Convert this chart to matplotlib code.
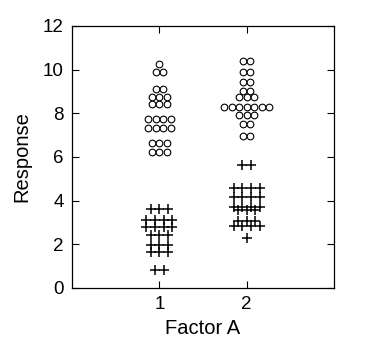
import matplotlib
matplotlib.use('Agg')
import matplotlib.pyplot as plt
import numpy as np

plt.rcParams['font.family'] = ['Liberation Sans', 'DejaVu Sans']

# response values, one entry per point
a1_circles = [10.24, 9.91, 9.91, 9.13, 9.13, 8.75, 8.75, 8.75, 8.41, 8.41, 8.41,
              7.73, 7.73, 7.73, 7.73, 7.32, 7.32, 7.32, 7.32,
              6.62, 6.62, 6.62, 6.23, 6.23, 6.23]
a1_crosses = [3.64, 3.64, 3.64, 3.10, 3.10, 3.10, 3.10, 2.80, 2.80, 2.80, 2.80,
              2.44, 2.44, 2.44, 1.98, 1.98, 1.98, 1.67, 1.67, 1.67, 0.84, 0.84]
a2_circles = [10.41, 10.41, 9.91, 9.91, 9.41, 9.41, 9.04, 9.04, 8.75, 8.75, 8.75,
              8.31, 8.31, 8.31, 8.31, 8.31, 8.31, 8.31,
              7.90, 7.90, 7.90, 7.52, 7.52, 6.94, 6.94]
a2_crosses = [5.61, 5.61, 4.57, 4.57, 4.57, 4.57, 4.18, 4.18, 4.18, 4.18,
              3.73, 3.73, 3.73, 3.73, 3.55, 3.55, 3.55, 3.09, 3.09, 3.09,
              2.82, 2.82, 2.82, 2.82, 2.29]
levels = [1, 2]


def spread(center, vals, step):
    # lay equal values side by side, centred on the level
    vals = np.asarray(vals)
    xs = np.zeros(len(vals))
    for v in np.unique(vals):
        idx = np.where(vals == v)[0]
        n = len(idx)
        xs[idx] = center + (np.arange(n) - (n - 1) / 2) * step
    return xs, vals


fig = plt.figure(figsize=(3.84, 3.6), dpi=100)
ax = fig.add_axes([0.1875, 0.2, 0.6823, 0.728])

for lev, circ, cross in [(levels[0], a1_circles, a1_crosses), (levels[1], a2_circles, a2_crosses)]:
    x, y = spread(lev, circ, 0.086)
    ax.plot(x, y, 'o', ms=4.8, mfc='white', mec='black', mew=0.8, ls='none')
    x, y = spread(lev, cross, 0.098)
    ax.plot(x, y, '+', ms=6.8, mec='black', mew=1.1, ls='none')

ax.set_xlim(0, 3)
ax.set_ylim(0, 12)
ax.set_xticks(levels)
ax.set_yticks(range(0, 13, 2))
ax.tick_params(direction='in', length=5, width=0.8, top=True, right=True,
               labelsize=13.5, pad=6)
for s in ax.spines.values():
    s.set_linewidth(0.9)
ax.set_xlabel('Factor A', fontsize=14.5, labelpad=4)
ax.set_ylabel('Response', fontsize=14.5, labelpad=8)

fig.savefig('out.png', dpi=100)
